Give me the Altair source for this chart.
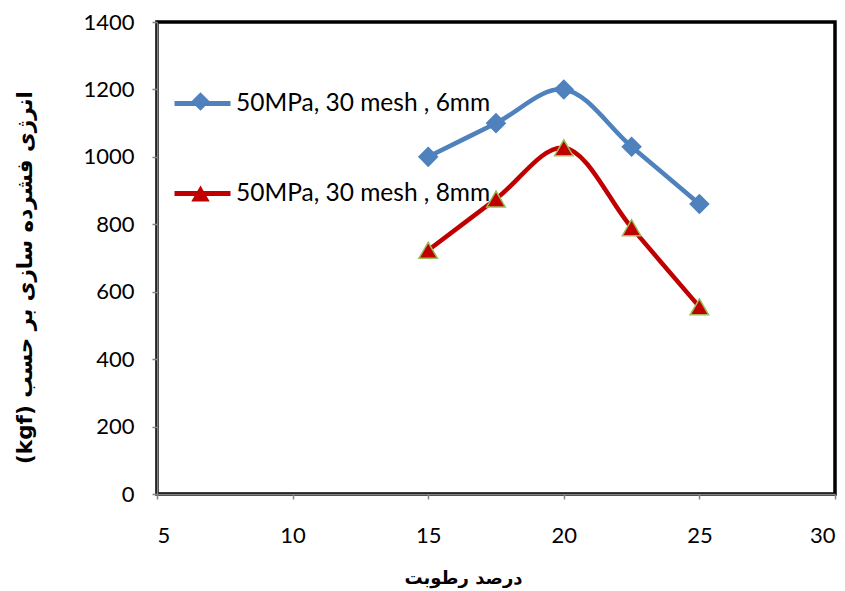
import altair as alt
import pandas as pd

moisture = [15, 17.5, 20, 22.5, 25]
energy_6mm = [1000, 1100, 1200, 1030, 860]
energy_8mm = [723, 875, 1027, 790, 555]
series_names = ["50MPa, 30 mesh , 6mm", "50MPa, 30 mesh , 8mm"]
x_ticks = [5, 10, 15, 20, 25, 30]
y_ticks = [0, 200, 400, 600, 800, 1000, 1200, 1400]
x_title = "درصد رطوبت"
y_title = "انرژی فشرده سازی بر حسب (kgf)"

rows = []
for name, vals in zip(series_names, [energy_6mm, energy_8mm]):
    for m, v in zip(moisture, vals):
        rows.append({"moisture": m, "energy": v, "series": name, "marker": name + " "})
df = pd.DataFrame(rows)
marker_names = [n + " " for n in series_names]

line_colors = ["#4F81BD", "#C00000"]
FONT = "Lato"

x_enc = alt.X("moisture:Q",
              scale=alt.Scale(domain=[5, 30], nice=False, zero=False),
              axis=alt.Axis(values=x_ticks, title=x_title, grid=False, format="d",
                            titleFont="DejaVu Sans", titleFontSize=18, titleFontWeight="bold",
                            titleX=306, titleY=84, titleBaseline="middle", titleAlign="center",
                            labelPadding=26))
y_enc = alt.Y("energy:Q",
              scale=alt.Scale(domain=[0, 1400], nice=False),
              axis=alt.Axis(values=y_ticks, title="\u202b" + y_title + "\u202c", grid=False,
                            format="d",
                            titleFont="DejaVu Sans", titleFontSize=21.5, titleFontWeight="bold",
                            titleX=-132, titleY=255, titleAngle=270, titleBaseline="middle",
                            titleAlign="center", labelPadding=18))

lines = alt.Chart(df).mark_line(strokeWidth=4.5, interpolate="catmull-rom").encode(
    x=x_enc, y=y_enc,
    stroke=alt.Stroke("series:N",
                      scale=alt.Scale(domain=series_names, range=line_colors),
                      legend=alt.Legend(orient="none", legendX=15, legendY=51, title=None,
                                        symbolType="stroke", symbolSize=3136,
                                        symbolStrokeWidth=5, labelFont=FONT,
                                        labelFontSize=24.5, labelColor="black", labelLimit=0,
                                        rowPadding=48, padding=0, labelOffset=3)),
)

points = alt.Chart(df).mark_point(filled=True, size=340, opacity=1).encode(
    x=x_enc, y=y_enc,
    fill=alt.Fill("marker:N",
                  scale=alt.Scale(domain=marker_names, range=line_colors),
                  legend=alt.Legend(orient="none", legendX=34, legendY=70, title=None,
                                    symbolSize=340, symbolStrokeWidth=0, symbolOpacity=1,
                                    labelExpr="''", labelFontSize=1,
                                    rowPadding=73, padding=0, labelOffset=0)),
    shape=alt.Shape("marker:N",
                    scale=alt.Scale(domain=marker_names, range=["diamond", "triangle-up"])),
    stroke=alt.condition(f"datum.series == '{series_names[1]}'",
                         alt.value("#9BBB59"), alt.value("#4F81BD")),
    strokeWidth=alt.value(1.5),
)

chart = alt.layer(lines, points).properties(
    width=678, height=472,
    autosize=alt.AutoSizeParams(type="none"),
    padding={"left": 157, "top": 22, "right": 10, "bottom": 97},
    background="white",
).configure_view(
    stroke="black", strokeWidth=3.5
).configure_axis(
    domainColor="#868686", domainWidth=1.5,
    tickColor="#868686", tickSize=5, tickWidth=1.5,
    labelFont=FONT, labelFontSize=22, labelColor="black",
    titleColor="black",
)

chart.save("out.html", embed_options={"renderer": "svg", "actions": False})
